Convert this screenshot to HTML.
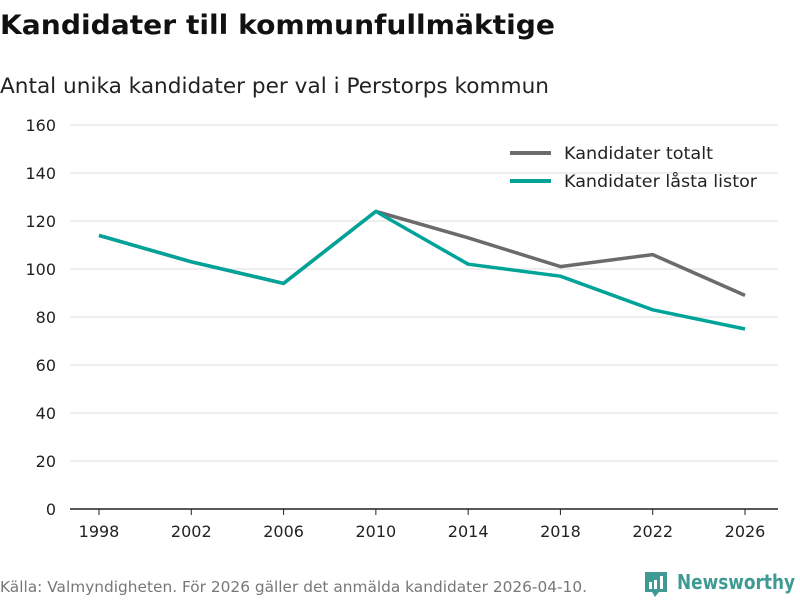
<!DOCTYPE html>
<html><head><meta charset="utf-8"><style>
body{margin:0;background:#fff;font-family:"DejaVu Sans","Liberation Sans",sans-serif;}
svg{display:block}
</style></head><body>
<svg width="800" height="600">
<text x="0" y="34" font-size="27" font-weight="bold" fill="#111" textLength="555" lengthAdjust="spacingAndGlyphs">Kandidater till kommunfullmäktige</text>
<text x="0" y="93" font-size="21" fill="#222" textLength="549" lengthAdjust="spacingAndGlyphs">Antal unika kandidater per val i Perstorps kommun</text>
<g id="grid"></g><g id="xaxis"></g><g id="lines"></g>
<g>
<line x1="510" y1="153" x2="551" y2="153" stroke="#6b6a6c" stroke-width="4"/>
<text x="564" y="159" font-size="17" fill="#222" textLength="149" lengthAdjust="spacingAndGlyphs">Kandidater totalt</text>
<line x1="510" y1="181" x2="551" y2="181" stroke="#00a398" stroke-width="4"/>
<text x="564" y="187" font-size="17" fill="#222" textLength="193" lengthAdjust="spacingAndGlyphs">Kandidater låsta listor</text>
</g>
<text x="0" y="592" font-size="15" fill="#777" textLength="587" lengthAdjust="spacingAndGlyphs">Källa: Valmyndigheten. För 2026 gäller det anmälda kandidater 2026-04-10.</text>
<g>
<path d="M645 572 h22 v20 h-8 l-4 5 l-3 -5 h-7 z" fill="#3e9a92"/>
<rect x="649" y="582" width="3" height="7" fill="#fff"/><rect x="654" y="580" width="3" height="9" fill="#fff"/><rect x="660" y="576" width="3" height="13" fill="#fff"/>
<text x="677" y="589" font-size="20" font-weight="bold" fill="#3e9a92" textLength="118" lengthAdjust="spacingAndGlyphs">Newsworthy</text>
</g>
</svg>
<script>
const years=[1998,2002,2006,2010,2014,2018,2022,2026];
const total=[114,103,94,124,113,101,106,89];
const locked=[114,103,94,124,102,97,83,75];
const yTicks=[0,20,40,60,80,100,120,140,160];
const NS="http://www.w3.org/2000/svg";
const x=y=>99+(y-1998)*(745-99)/28;
const yS=v=>509-v*2.4;
function mk(t,a,p){const e=document.createElementNS(NS,t);for(const k in a)e.setAttribute(k,a[k]);p.appendChild(e);return e;}
const g=document.getElementById('grid');
yTicks.forEach(v=>{
 const l=mk('line',{x1:70,x2:778,y1:yS(v),y2:yS(v),stroke:v===0?'#222':'#ddd','stroke-width':v===0?1.5:1},g);
 
 
 const t=mk('text',{x:56,y:yS(v)+6,'font-size':16,fill:'#222','text-anchor':'end'},g);
 t.textContent=v;
 
 
});
const xa=document.getElementById('xaxis');
years.forEach(yr=>{
 const l=mk('line',{x1:x(yr),x2:x(yr),y1:509,y2:515,stroke:'#222'},xa);
 
 
 const t=mk('text',{x:x(yr),y:537,'font-size':16,fill:'#222','text-anchor':'middle'},xa);
 t.textContent=yr;
 
 
});
const lg=document.getElementById('lines');
[[total,'#6b6a6c','line-total'],[locked,'#00a398','line-locked']].forEach(([d,c,n])=>{
 const p=mk('polyline',{points:d.map((v,i)=>x(years[i])+','+yS(v)).join(' '),fill:'none',stroke:c,'stroke-width':3.5,'stroke-linejoin':'round'},lg);
 
 
});
</script>
</body></html>
